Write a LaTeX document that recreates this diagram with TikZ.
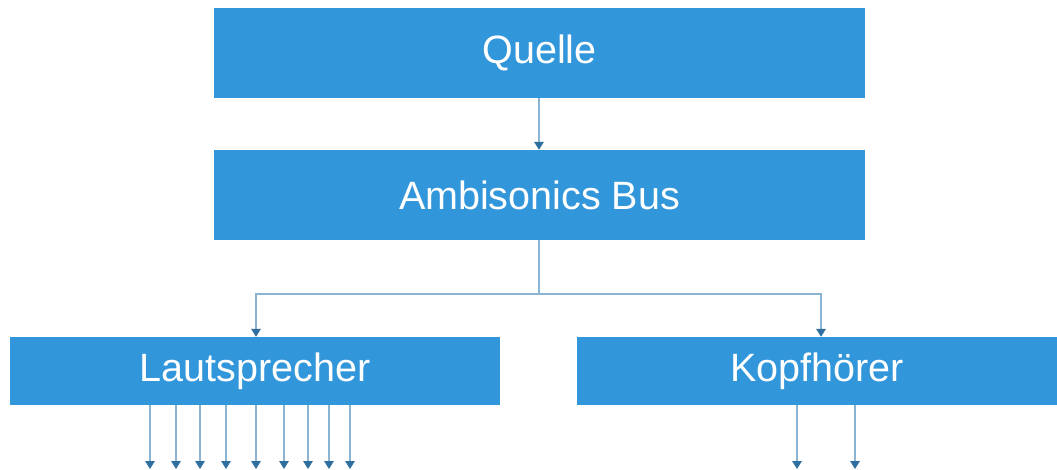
\documentclass[tikz,border=0pt]{standalone}
\usepackage{fontspec}
\setmainfont{Liberation Sans}
\usetikzlibrary{arrows.meta}
\definecolor{boxblue}{HTML}{3296DB}
\definecolor{linecol}{HTML}{8AB4D4}
\definecolor{tipcol}{HTML}{2E6FA0}
\tikzset{
  blk/.style={fill=boxblue, draw=none, text=white, font=\fontsize{39.5}{41}\selectfont, inner sep=0pt},
  conn/.style={draw=linecol, line width=1.5pt, -{Triangle[width=9.5pt,length=8pt,color=tipcol]}},
  plain/.style={draw=linecol, line width=1.5pt}
}
\begin{document}
\begin{tikzpicture}[x=1pt,y=-1pt]
\useasboundingbox (0,0) rectangle (1057,470);
\node[blk, minimum width=651pt, minimum height=90pt] (q) at (539.5,53) {Quelle};
\node[blk, minimum width=651pt, minimum height=90pt] (a) at (539.5,195) {Ambisonics Bus};
\node[blk, minimum width=490pt, minimum height=68pt] (l) at (255,371) {Lautsprecher};
\node[blk, minimum width=480pt, minimum height=68pt] (k) at (817,371) {Kopfhörer};
\coordinate (j) at (539,294);
\draw[conn] (q.south -| 539,0) -- (a.north -| 539,0);
\draw[plain] (a.south -| j) -- (j);
\draw[conn] (j) -| (l.north -| 256,0);
\draw[conn] (j) -| (k.north -| 821,0);
\foreach \x [count=\i] in {150,176,200,226,256,284,308,329,350}{
  \coordinate (le\i) at (\x,469);
  \draw[conn] (l.south -| \x,0) -- (le\i);
}
\foreach \x [count=\i] in {797,855}{
  \coordinate (ke\i) at (\x,469);
  \draw[conn] (k.south -| \x,0) -- (ke\i);
}
\end{tikzpicture}
\end{document}
